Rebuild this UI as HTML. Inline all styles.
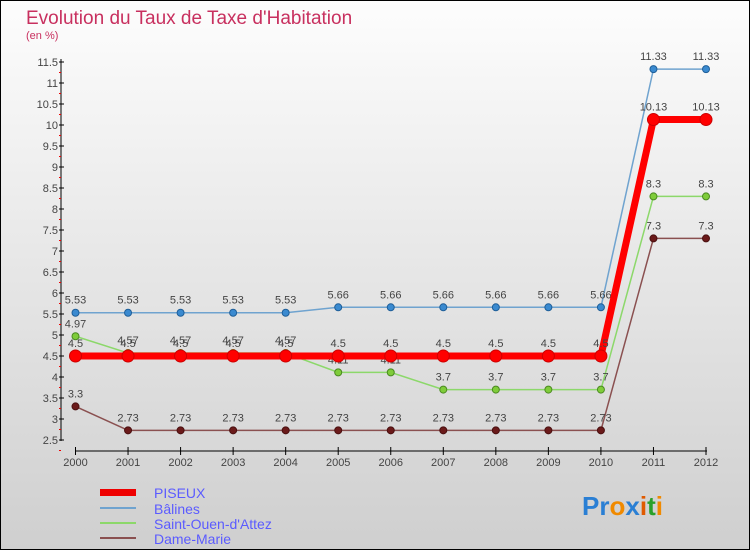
<!DOCTYPE html>
<html><head><meta charset="utf-8"><style>
body{margin:0}
svg text{font-family:"Liberation Sans",sans-serif}
</style></head><body>
<svg id="c" width="750" height="550" xmlns="http://www.w3.org/2000/svg">
<defs><linearGradient id="bg" x1="0" y1="0" x2="0" y2="1"><stop offset="0" stop-color="#fdfdfd"/><stop offset="1" stop-color="#cfcfcf"/></linearGradient></defs>
<rect x="0.5" y="0.5" width="749" height="549" fill="url(#bg)" stroke="#000"/>
<text x="26" y="24" font-size="19" fill="#c8305f">Evolution du Taux de Taxe d'Habitation</text>
<text x="26" y="39" font-size="11" fill="#c8305f">(en %)</text>
<g id="axes"></g><g id="series"></g>
<g>
<rect x="100" y="489" width="36" height="7" fill="#e00"/>
<line x1="100" y1="508" x2="136" y2="508" stroke="#6fa3cf" stroke-width="2"/>
<line x1="100" y1="523" x2="136" y2="523" stroke="#8cd86a" stroke-width="2"/>
<line x1="100" y1="538" x2="136" y2="538" stroke="#8a5050" stroke-width="2"/>
<text x="154" y="498" font-size="14" fill="#5b5bff">PISEUX</text>
<text x="154" y="514" font-size="14" fill="#5b5bff">Bâlines</text>
<text x="154" y="529" font-size="14" fill="#5b5bff">Saint-Ouen-d'Attez</text>
<text x="154" y="544" font-size="14" fill="#5b5bff">Dame-Marie</text>
</g>
<text x="582" y="515" font-size="26" font-weight="bold"><tspan fill="#2a7fd4">Pr</tspan><tspan fill="#f08a00">o</tspan><tspan fill="#2a7fd4">x</tspan><tspan fill="#e05a00">i</tspan><tspan fill="#2aa02a">t</tspan><tspan fill="#f08a00">i</tspan></text>
</svg>
<script>
const years=[2000,2001,2002,2003,2004,2005,2006,2007,2008,2009,2010,2011,2012];
const yTicks=[2.5,3,3.5,4,4.5,5,5.5,6,6.5,7,7.5,8,8.5,9,9.5,10,10.5,11,11.5];
const piseux=[4.5,4.5,4.5,4.5,4.5,4.5,4.5,4.5,4.5,4.5,4.5,10.13,10.13];
const balines=[5.53,5.53,5.53,5.53,5.53,5.66,5.66,5.66,5.66,5.66,5.66,11.33,11.33];
const saintOuen=[4.97,4.57,4.57,4.57,4.57,4.11,4.11,3.7,3.7,3.7,3.7,8.3,8.3];
const dameMarie=[3.3,2.73,2.73,2.73,2.73,2.73,2.73,2.73,2.73,2.73,2.73,7.3,7.3];
const NS="http://www.w3.org/2000/svg";
const X=i=>75.5+i*(706-75.5)/12;
const Y=v=>440-(v-2.5)*42;
function mk(t,a,p){const e=document.createElementNS(NS,t);for(const k in a)e.setAttribute(k,a[k]);p.appendChild(e);return e;}
const ax=document.getElementById('axes');
let yl=mk('line',{x1:61,y1:59,x2:61,y2:441,stroke:'#000'},ax);


let xl=mk('line',{x1:75,y1:451,x2:707,y2:451,stroke:'#000'},ax);


yTicks.forEach(v=>{const y=Y(v);mk('line',{x1:59,y1:y,x2:64,y2:y,stroke:'#000'},ax);
mk('line',{x1:59,y1:y+10.5,x2:61,y2:y+10.5,stroke:'#e00'},ax);
const t=mk('text',{x:58,y:y+4,'font-size':11,fill:'#444','text-anchor':'end'},ax);t.textContent=String(v);

});
years.forEach((yr,i)=>{const x=X(i);mk('line',{x1:x,y1:447,x2:x,y2:455,stroke:'#000'},ax);
const t=mk('text',{x:x,y:466,'font-size':11,fill:'#444','text-anchor':'middle'},ax);t.textContent=yr;

});
const sg=document.getElementById('series');
function draw(vals,name,color,w,r,dot,stroke){const g=mk('g',{},sg);


mk('polyline',{points:vals.map((v,i)=>X(i)+','+Y(v)).join(' '),fill:'none',stroke:color,'stroke-width':w,'stroke-linejoin':'round'},g);
vals.forEach((v,i)=>{const c=mk('circle',{cx:X(i),cy:Y(v),r:r,fill:dot,stroke:stroke,'stroke-width':1},g);


const t=mk('text',{x:X(i),y:Y(v)-9,'font-size':11,fill:'#444','text-anchor':'middle'},g);t.textContent=String(v);});}
draw(dameMarie,'dame-marie-series','#8a5050',1.5,3.5,'#6b1a1a','#4a1010');
draw(saintOuen,'saint-ouen-series','#8cd86a',1.5,3.5,'#7fcc3a','#4a8a20');
draw(balines,'balines-series','#6fa3cf',1.5,3.5,'#3a8ad0','#1f5f99');
draw(piseux,'piseux-series','#f00',7,6,'#f00','#c00');
</script>
</body></html>
